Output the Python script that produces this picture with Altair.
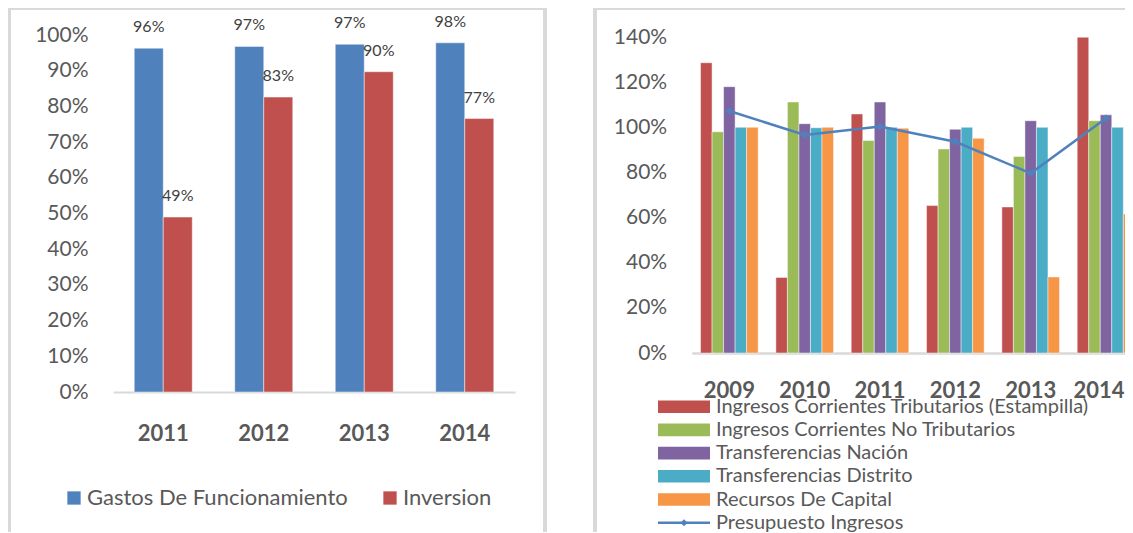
import altair as alt
import pandas as pd

FONT = "Lato"
AXIS_GRAY = "#595959"
BORDER = "#d9d9d9"

# ---------------- Left chart data ----------------
years_left = ["2011", "2012", "2013", "2014"]
left_series = ["Gastos De Funcionamiento", "Inversion"]
left_colors = ["#4F81BD", "#C0504D"]
gastos_funcionamiento = [0.963, 0.968, 0.974, 0.978]
inversion = [0.490, 0.826, 0.897, 0.766]
left_ticks = [0, 0.1, 0.2, 0.3, 0.4, 0.5, 0.6, 0.7, 0.8, 0.9, 1.0]

# ---------------- Right chart data ----------------
years_right = ["2009", "2010", "2011", "2012", "2013", "2014"]
right_series = [
    "Ingresos Corrientes Tributarios (Estampilla)",
    "Ingresos Corrientes No Tributarios",
    "Transferencias Nación",
    "Transferencias Distrito",
    "Recursos De Capital",
    "Presupuesto Ingresos",
]
right_colors = ["#C0504D", "#9BBB59", "#8064A2", "#4BACC6", "#F79646", "#4F81BD"]
ing_tributarios = [1.286, 0.335, 1.059, 0.653, 0.647, 1.399]
ing_no_tributarios = [0.980, 1.112, 0.941, 0.904, 0.871, 1.029]
transf_nacion = [1.180, 1.016, 1.112, 0.991, 1.029, 1.055]
transf_distrito = [1.000, 0.998, 1.000, 1.000, 1.000, 1.000]
recursos_capital = [1.000, 1.000, 0.996, 0.951, 0.337, 0.616]
presupuesto_ingresos = [1.072, 0.966, 1.003, 0.936, 0.796, 1.040]
right_ticks = [0, 0.2, 0.4, 0.6, 0.8, 1.0, 1.2, 1.4]

# ---------------- tables ----------------
left_df = pd.DataFrame({
    "year": years_left * 2,
    "serie": [s for s in left_series for _ in years_left],
    "value": gastos_funcionamiento + inversion,
})
bar_series = right_series[:5]
bar_values = [ing_tributarios, ing_no_tributarios, transf_nacion, transf_distrito, recursos_capital]
right_df = pd.DataFrame({
    "year": years_right * 5,
    "serie": [s for s in bar_series for _ in years_right],
    "value": [v for vals in bar_values for v in vals],
})
line_df = pd.DataFrame({"year": years_right, "serie": right_series[5], "value": presupuesto_ingresos})
legend_df = pd.DataFrame({"name": right_series})
one = pd.DataFrame({"k": [0]})

# One shared canvas: the left panel's plot area is the view origin.
W, H = 1012, 357
PAD = {"left": 105, "top": 27, "right": 0, "bottom": 140}

# ---------------- Left panel ----------------
xl = alt.X("year:N", sort=years_left,
           scale=alt.Scale(domain=years_left, range=[0, 402], paddingInner=0.423, paddingOuter=0.2115),
           axis=alt.Axis(orient="bottom", title=None, ticks=False, domain=True, domainColor=BORDER,
                         domainWidth=2, labelAngle=0, labelPadding=41, labelBaseline="middle",
                         labelFont=FONT, labelFontSize=22, labelFontWeight="bold",
                         labelColor=AXIS_GRAY))
yl = alt.Y("value:Q", scale=alt.Scale(domain=[0, 1], range=[357, 0]),
           axis=alt.Axis(orient="left", title=None, values=left_ticks, format=".0%", grid=False,
                         domain=False, ticks=False, labelPadding=25, labelFont=FONT,
                         labelFontSize=21, labelColor=AXIS_GRAY))
xol = alt.XOffset("serie:N", sort=left_series,
                  scale=alt.Scale(domain=left_series, range=[0, 58], paddingInner=0, paddingOuter=0))

left_bars = alt.Chart(left_df).mark_bar(stroke="white", strokeOpacity=0.45, strokeWidth=1).encode(
    x=xl, y=yl, xOffset=xol,
    color=alt.Color("serie:N", sort=left_series,
                    scale=alt.Scale(domain=left_series, range=left_colors),
                    legend=alt.Legend(orient="none", legendX=-50, legendY=452,
                                      direction="horizontal", title=None,
                                      symbolType="square", symbolSize=177, symbolStrokeWidth=0,
                                      labelFont=FONT, labelFontSize=22, labelColor=AXIS_GRAY,
                                      labelLimit=600, labelOffset=2, columnPadding=31)),
)
left_labels = alt.Chart(left_df).mark_text(baseline="middle", dy=-21, font=FONT, fontSize=16,
                                           color="#404040").encode(
    x=xl, y=yl, xOffset=xol, text=alt.Text("value:Q", format=".0%"))
left_panel = alt.layer(left_bars, left_labels)

# ---------------- Right panel ----------------
color_r = alt.Scale(domain=right_series, range=right_colors)
xr = alt.X("year:N", sort=years_right,
           scale=alt.Scale(domain=years_right, range=[578.7, 1030.7], paddingInner=0.235,
                           paddingOuter=0.1175),
           axis=alt.Axis(orient="bottom", offset=-39, title=None, ticks=False, domain=True,
                         domainColor=BORDER, domainWidth=2.5, labelAngle=0, labelPadding=37,
                         labelBaseline="middle", labelFont=FONT, labelFontSize=22,
                         labelFontWeight="bold", labelColor=AXIS_GRAY,
                         labelOffset={"condition": {"test": "datum.value === '2014'", "value": -7},
                                      "value": 0}))
yr = alt.Y("value:Q", scale=alt.Scale(domain=[0, 1.4], range=[318, 2]),
           axis=alt.Axis(orient="left", offset=-578.7, title=None, values=right_ticks,
                         format=".0%", grid=False, domain=False, ticks=False, labelPadding=25,
                         labelFont=FONT, labelFontSize=21, labelColor=AXIS_GRAY))
xor = alt.XOffset("serie:N", sort=bar_series,
                  scale=alt.Scale(domain=bar_series, range=[0, 57.6], paddingInner=0, paddingOuter=0))

right_bars = alt.Chart(right_df).mark_bar(stroke="white", strokeOpacity=0.45, strokeWidth=1).encode(
    x=xr, y=yr, xOffset=xor,
    color=alt.Color("serie:N", scale=color_r, legend=None),
)
right_line = alt.Chart(line_df).mark_line(
    strokeWidth=2.5,
    point=alt.OverlayMarkDef(shape="diamond", filled=True, size=60, color="#4F81BD"),
).encode(x=xr, y=yr, color=alt.Color("serie:N", scale=color_r, legend=None))
right_panel = alt.layer(right_bars, right_line)

# ---------------- Right legend (drawn list) ----------------
leg_y = alt.Y("name:N", sort=right_series,
              scale=alt.Scale(type="point", domain=right_series, range=[371.7, 487.7], padding=0),
              axis=None)
leg_color = alt.Color("name:N", scale=color_r, legend=None)
leg_bars = alt.Chart(legend_df).transform_filter(
    alt.FieldOneOfPredicate(field="name", oneOf=bar_series)
).mark_rule(strokeWidth=12.6).encode(
    x=alt.value(545), x2=alt.value(597), y=leg_y, color=leg_color)
leg_line = alt.Chart(legend_df).transform_filter(
    alt.datum.name == right_series[5]
).mark_rule(strokeWidth=2.5).encode(
    x=alt.value(545), x2=alt.value(597), y=leg_y, color=leg_color)
leg_pt = alt.Chart(legend_df).transform_filter(
    alt.datum.name == right_series[5]
).mark_point(shape="diamond", filled=True, size=50, opacity=1).encode(
    x=alt.value(571), y=leg_y, color=leg_color)
leg_text = alt.Chart(legend_df).mark_text(align="left", baseline="middle", font=FONT,
                                          fontSize=20, color=AXIS_GRAY).encode(
    x=alt.value(603), y=leg_y, text="name:N")

# ---------------- Panel frames ----------------
def frame(x0, x1, y0, y1):
    return alt.Chart(one).mark_rect(color=BORDER).encode(
        x=alt.value(x0), x2=alt.value(x1), y=alt.value(y0), y2=alt.value(y1))

frames = [
    frame(-105, -102, -27, 498),   # left panel, left edge
    frame(-105, 434, -27, -25),    # left panel, top edge
    frame(430, 434, -27, 498),     # left panel, right edge
    frame(480, 484, -27, 498),     # right panel, left edge
    frame(480, W, -27, -25),       # right panel, top edge
]

chart = alt.layer(
    *frames, left_panel, right_panel, leg_bars, leg_line, leg_pt, leg_text
).resolve_scale(
    x="independent", y="independent", xOffset="independent", color="independent"
).properties(
    width=W, height=H, padding=PAD, autosize=alt.AutoSizeParams(type="none"),
    background="white",
).configure_view(stroke=None)

chart.save("out.html", embed_options={"renderer": "svg", "actions": False})
